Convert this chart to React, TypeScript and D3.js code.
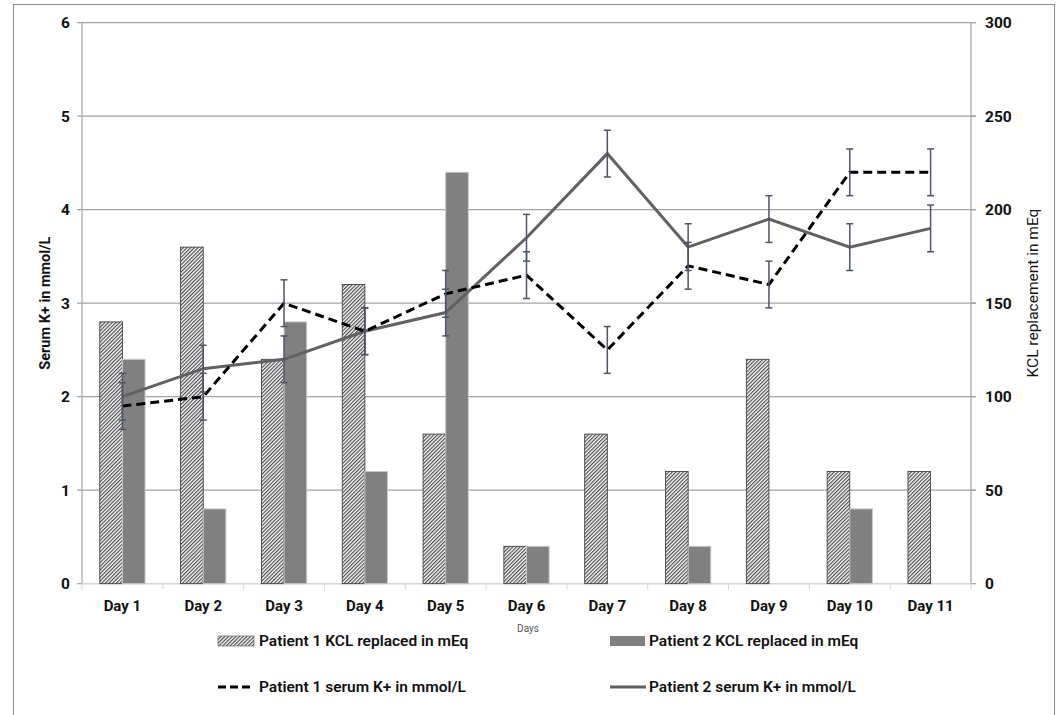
import React from "react";
import * as d3 from "d3";

const days = ["Day 1", "Day 2", "Day 3", "Day 4", "Day 5", "Day 6", "Day 7", "Day 8", "Day 9", "Day 10", "Day 11"];
const p1Kcl = [140, 180, 120, 160, 80, 20, 80, 60, 120, 60, 60];
const p2Kcl = [120, 40, 140, 60, 220, 20, 0, 20, 0, 40, 0];
const p1Serum = [1.9, 2.0, 3.0, 2.7, 3.1, 3.3, 2.5, 3.4, 3.2, 4.4, 4.4];
const p2Serum = [2.0, 2.3, 2.4, 2.7, 2.9, 3.7, 4.6, 3.6, 3.9, 3.6, 3.8];
const serumError = 0.25;
const leftTicks = [0, 1, 2, 3, 4, 5, 6];
const rightTicks = [0, 50, 100, 150, 200, 250, 300];

const W = 1058;
const H = 715;
const m = { left: 82, right: 971, top: 22.7, bottom: 583.7 };
const FONT = "Roboto, 'Open Sans', sans-serif";

export default function App() {
  const x = d3.scaleBand<string>().domain(days).range([m.left, m.right]).padding(0);
  const yL = d3.scaleLinear().domain([0, 6]).range([m.bottom, m.top]);
  const yR = d3.scaleLinear().domain([0, 300]).range([m.bottom, m.top]);
  const bw = x.bandwidth() * 0.28;
  const cx = (d: string) => (x(d) as number) + x.bandwidth() / 2;

  const line = d3
    .line<number>()
    .x((_, i) => cx(days[i]))
    .y((v) => yL(v));

  const gridColor = "#a3a3a3";
  const errColor = "#4b5566";

  return (
    <svg width={W} height={H} style={{ position: "absolute", left: 0, top: 0, background: "#fff" }} fontFamily={FONT}>
      <defs>
        <pattern id="hatch" patternUnits="userSpaceOnUse" width="2.6" height="10" patternTransform="rotate(45)">
          <rect width="2.6" height="10" fill="#fff" />
          <line x1="0.6" y1="0" x2="0.6" y2="10" stroke="#4a4a4a" strokeWidth="1.2" />
        </pattern>
      </defs>
      <rect x={13.5} y={4.5} width={1041} height={H} fill="none" stroke="#8a8a8a" strokeWidth={1} />

      {/* gridlines + left ticks */}
      {leftTicks.map((t) => (
        <g key={"gl" + t}>
          {t > 0 && (
            <line x1={m.left - 5} x2={m.right + 5} y1={yL(t)} y2={yL(t)} stroke={gridColor} strokeWidth={1.2} />
          )}
          <text x={70} y={yL(t)} dy="0.35em" textAnchor="end" fontSize={15.5} fontWeight="bold" fill="#111">
            {t}
          </text>
        </g>
      ))}
      {rightTicks.map((t) => (
        <g key={"gr" + t}>
          <line x1={m.right} x2={m.right + 5} y1={yR(t)} y2={yR(t)} stroke={gridColor} strokeWidth={1.2} />
          <text x={985} y={yR(t)} dy="0.35em" textAnchor="start" fontSize={15.5} fontWeight="bold" fill="#111">
            {t}
          </text>
        </g>
      ))}
      <line x1={m.left - 5} x2={m.left} y1={m.bottom} y2={m.bottom} stroke={gridColor} strokeWidth={1.2} />
      {/* axes */}
      <line x1={m.left} x2={m.left} y1={m.top} y2={m.bottom} stroke={gridColor} strokeWidth={1.2} />
      <line x1={m.right} x2={m.right} y1={m.top} y2={m.bottom} stroke={gridColor} strokeWidth={1.2} />
      <line x1={m.left} x2={m.right} y1={m.bottom} y2={m.bottom} stroke="#d6d6d6" strokeWidth={1.5} />
      {days.map((d, i) => (
        <line
          key={"bt" + i}
          x1={x(d) as number}
          x2={x(d) as number}
          y1={m.bottom}
          y2={m.bottom + 6}
          stroke="#d6d6d6"
          strokeWidth={1}
        />
      ))}
      <line x1={m.right} x2={m.right} y1={m.bottom} y2={m.bottom + 6} stroke="#d6d6d6" strokeWidth={1} />

      {/* bars */}
      {days.map((d, i) => (
        <g key={"b" + i}>
          {p1Kcl[i] > 0 && (
            <rect
              x={cx(d) - bw}
              y={yR(p1Kcl[i])}
              width={bw}
              height={yR(0) - yR(p1Kcl[i])}
              fill="url(#hatch)"
              stroke="#333"
              strokeWidth={0.8}
            />
          )}
          {p2Kcl[i] > 0 && (
            <rect
              x={cx(d)}
              y={yR(p2Kcl[i])}
              width={bw}
              height={yR(0) - yR(p2Kcl[i])}
              fill="#808080"
              stroke="#c8c8c8"
              strokeWidth={1}
            />
          )}
        </g>
      ))}

      {/* lines */}
      <path d={line(p2Serum) || ""} fill="none" stroke="#616161" strokeWidth={3} />
      <path d={line(p1Serum) || ""} fill="none" stroke="#000" strokeWidth={3} strokeDasharray="9,5" />

      {/* error bars */}
      {[p1Serum, p2Serum].map((s, si) =>
        s.map((v, i) => {
          const xx = cx(days[i]);
          const y1 = yL(v + serumError);
          const y2 = yL(v - serumError);
          return (
            <g key={"e" + si + "-" + i} stroke={errColor} strokeWidth={1.5}>
              <line x1={xx} x2={xx} y1={y1} y2={y2} />
              <line x1={xx - 3.5} x2={xx + 3.5} y1={y1} y2={y1} />
              <line x1={xx - 3.5} x2={xx + 3.5} y1={y2} y2={y2} />
            </g>
          );
        })
      )}

      {/* x labels */}
      {days.map((d) => (
        <text key={"xl" + d} x={cx(d)} y={606} dy="0.35em" textAnchor="middle" fontSize={15} fontWeight="bold" fill="#111">
          {d}
        </text>
      ))}
      <text x={528} y={628} dy="0.35em" textAnchor="middle" fontSize={10} fill="#555">
        Days
      </text>

      {/* axis titles */}
      <text
        transform={`translate(45,${(m.top + m.bottom) / 2}) rotate(-90)`}
        textAnchor="middle"
        dy="0.35em"
        fontSize={14.5}
        fontWeight="bold"
        fill="#111"
      >
        Serum K+ in mmol/L
      </text>
      <text
        transform={`translate(1033,293) rotate(-90)`}
        textAnchor="middle"
        dy="0.35em"
        fontSize={15.5}
        fill="#111"
      >
        KCL replacement in mEq
      </text>

      {/* legend */}
      <rect x={218} y={636} width={36} height={10} fill="url(#hatch)" stroke="#555" strokeWidth={0.6} />
      <text x={259} y={641} dy="0.35em" fontSize={15.5} fontWeight="600" fill="#111">
        Patient 1 KCL replaced in mEq
      </text>
      <rect x={610} y={636} width={35} height={10} fill="#808080" />
      <text x={649} y={641} dy="0.35em" fontSize={15.5} fontWeight="600" fill="#111">
        Patient 2 KCL replaced in mEq
      </text>
      <line x1={218} x2={254} y1={687} y2={687} stroke="#000" strokeWidth={3} strokeDasharray="8,4" />
      <text x={259} y={687} dy="0.35em" fontSize={15.5} fontWeight="600" fill="#111">
        Patient 1 serum K+ in mmol/L
      </text>
      <line x1={610} x2={646} y1={687} y2={687} stroke="#616161" strokeWidth={3} />
      <text x={649} y={687} dy="0.35em" fontSize={15.5} fontWeight="600" fill="#111">
        Patient 2 serum K+ in mmol/L
      </text>
    </svg>
  );
}
